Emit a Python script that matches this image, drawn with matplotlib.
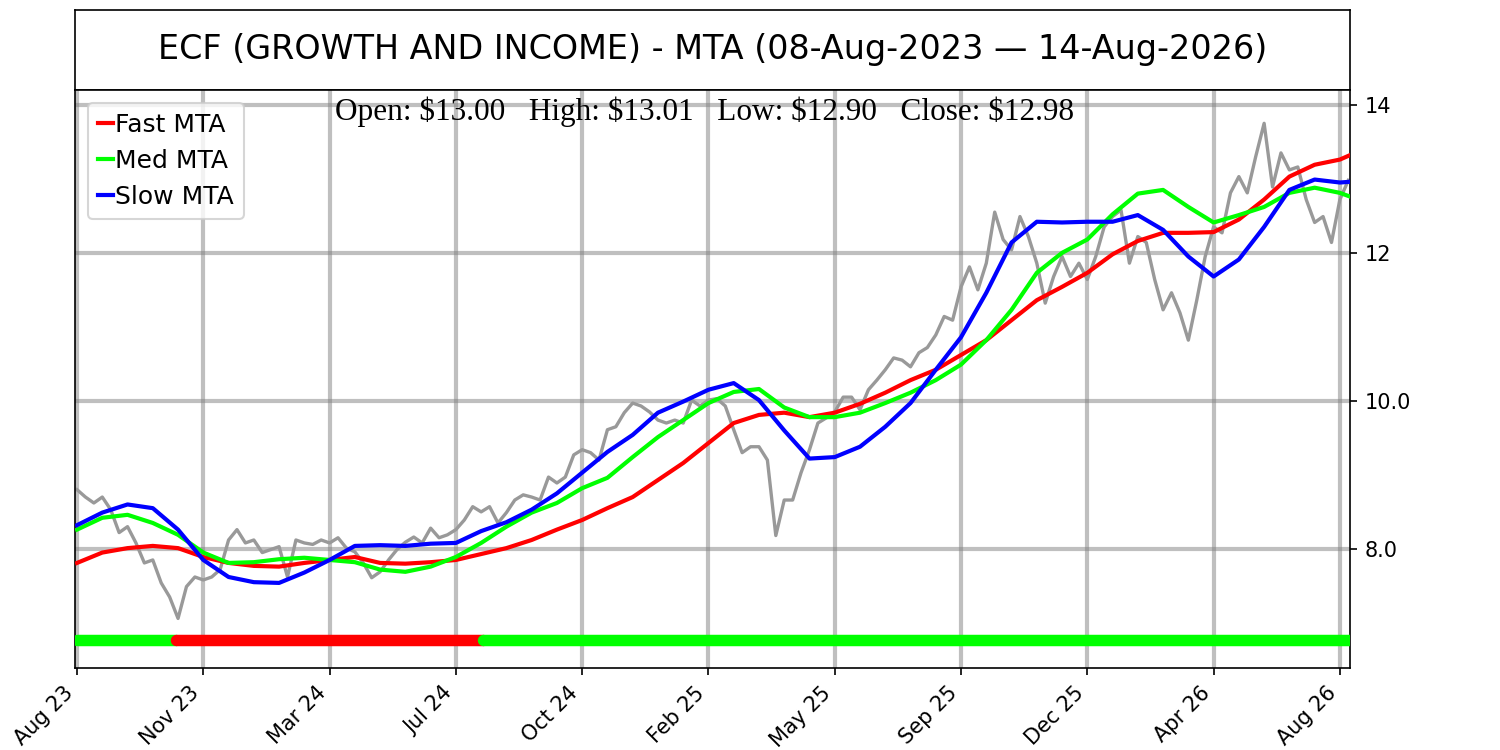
import numpy as np
from matplotlib import pyplot as plt

# weekly closes (one value every 5 trading days)
price_close = [8.80, 8.70, 8.62, 8.70, 8.53, 8.22, 8.30, 8.08, 7.81, 7.85,
               7.54, 7.35, 7.06, 7.49, 7.62, 7.58, 7.62, 7.72, 8.12, 8.26,
               8.08, 8.12, 7.95, 7.99, 8.03, 7.62, 8.12, 8.08, 8.06, 8.12,
               8.08, 8.15, 8.01, 7.96, 7.81, 7.61, 7.69, 7.85, 7.99, 8.09,
               8.16, 8.08, 8.28, 8.15, 8.19, 8.26, 8.39, 8.57, 8.50, 8.57,
               8.35, 8.49, 8.66, 8.73, 8.70, 8.66, 8.97, 8.89, 8.97, 9.27,
               9.34, 9.30, 9.20, 9.61, 9.65, 9.84, 9.97, 9.93, 9.85, 9.74,
               9.70, 9.74, 9.70, 10.01, 9.93, 10.01, 10.03, 9.93, 9.61, 9.30,
               9.38, 9.38, 9.20, 8.18, 8.66, 8.66, 9.03, 9.34, 9.70, 9.77,
               9.85, 10.05, 10.05, 9.88, 10.15, 10.28, 10.42, 10.58, 10.55, 10.46,
               10.65, 10.72, 10.89, 11.14, 11.09, 11.54, 11.81, 11.50, 11.86, 12.55,
               12.18, 12.04, 12.49, 12.22, 11.86, 11.32, 11.68, 11.95, 11.68, 11.86,
               11.64, 11.95, 12.35, 12.49, 12.58, 11.86, 12.22, 12.14, 11.64, 11.23,
               11.46, 11.19, 10.82, 11.36, 11.95, 12.35, 12.27, 12.81, 13.03, 12.81,
               13.30, 13.75, 12.89, 13.35, 13.12, 13.16, 12.72, 12.41, 12.49, 12.14,
               12.72, 12.98]

# MTA lines sampled every 15 trading days (+ last day)
mta_days = list(range(0, 751, 15)) + [756]
fast_mta = [7.81, 7.95, 8.01, 8.04, 8.01, 7.89, 7.81, 7.77, 7.76, 7.81,
            7.85, 7.89, 7.81, 7.80, 7.82, 7.85, 7.93, 8.01, 8.12, 8.26,
            8.39, 8.55, 8.70, 8.93, 9.16, 9.43, 9.70, 9.81, 9.84, 9.78,
            9.84, 9.96, 10.11, 10.28, 10.42, 10.62, 10.82, 11.09, 11.36, 11.54,
            11.73, 11.98, 12.16, 12.27, 12.27, 12.28, 12.45, 12.72, 13.03, 13.19,
            13.26, 13.32]
med_mta = [8.26, 8.42, 8.46, 8.35, 8.19, 7.95, 7.81, 7.82, 7.86, 7.88,
           7.85, 7.82, 7.72, 7.69, 7.76, 7.89, 8.08, 8.30, 8.49, 8.62,
           8.82, 8.96, 9.24, 9.51, 9.74, 9.97, 10.12, 10.16, 9.91, 9.78,
           9.78, 9.84, 9.97, 10.11, 10.28, 10.49, 10.82, 11.23, 11.73, 12.00,
           12.18, 12.52, 12.80, 12.85, 12.62, 12.41, 12.51, 12.62, 12.81, 12.88,
           12.81, 12.76]
slow_mta = [8.32, 8.49, 8.60, 8.55, 8.26, 7.85, 7.62, 7.55, 7.54, 7.68,
            7.85, 8.04, 8.05, 8.04, 8.07, 8.08, 8.24, 8.36, 8.53, 8.75,
            9.03, 9.31, 9.54, 9.84, 9.99, 10.15, 10.24, 10.01, 9.60, 9.22,
            9.24, 9.38, 9.65, 9.97, 10.42, 10.86, 11.46, 12.14, 12.42, 12.41,
            12.42, 12.42, 12.51, 12.31, 11.95, 11.68, 11.91, 12.35, 12.85, 12.99,
            12.95, 12.96]

# signal bar: start/end trading day and colour of each regime
sig_start = [0, 59, 241]
sig_end = [59, 241, 756]
sig_color = ['#00ff00', '#ff0000', '#00ff00']
sig_level = 6.77

tick_days = list(range(0, 751, 75))
tick_labels = ['Aug 23', 'Nov 23', 'Mar 24', 'Jul 24', 'Oct 24', 'Feb 25',
               'May 25', 'Sep 25', 'Dec 25', 'Apr 26', 'Aug 26']
y_ticks = [8, 10, 12, 14]
y_labels = ['8.0', '10.0', '12', '14']

title = 'ECF (GROWTH AND INCOME) - MTA (08-Aug-2023 \u2014 14-Aug-2026)'
ohlc = 'Open: $13.00   High: $13.01   Low: $12.90   Close: $12.98'

price_days = np.arange(len(price_close)) * 5

fig = plt.figure(figsize=(10, 5), dpi=150)
ax_t = fig.add_axes([0.05, 0.88, 0.85, 0.1067])
ax_t.set_xticks([])
ax_t.set_yticks([])
ax_t.text(0.5, 0.5, title, ha='center', va='center', fontsize=16, transform=ax_t.transAxes)

ax = fig.add_axes([0.05, 0.1093, 0.85, 0.7707])
ax.plot(price_days, price_close, color='#999999', lw=1.6, zorder=2)
ax.plot(mta_days, fast_mta, color='#ff0000', lw=2, label='Fast MTA', zorder=3)
ax.plot(mta_days, med_mta, color='#00ff00', lw=2, label='Med MTA', zorder=3)
ax.plot(mta_days, slow_mta, color='#0000ff', lw=2, label='Slow MTA', zorder=3)

for s, e, c in zip(sig_start, sig_end, sig_color):
    ax.plot([s, e], [sig_level, sig_level], color=c, lw=5.5, solid_capstyle='round', zorder=4)

ax.set_xlim(-1.2, 756)
ax.set_ylim(6.39, 14.2)
ax.set_xticks(tick_days)
ax.set_xticklabels(tick_labels, rotation=45, ha='right')
ax.yaxis.tick_right()
ax.set_yticks(y_ticks)
ax.set_yticklabels(y_labels)
ax.grid(True, color='grey', alpha=0.5, lw=2)

# $ signs are plain text here, not mathtext
ax.text(0.494, 0.988, ohlc, ha='center', va='top', fontsize=15, parse_math=False,
        family='Liberation Serif', transform=ax.transAxes)
ax.legend(loc='upper left', fontsize=12, handlelength=0.62, handletextpad=0.08,
          labelspacing=0.48)

fig.savefig('out.png', dpi=150)
